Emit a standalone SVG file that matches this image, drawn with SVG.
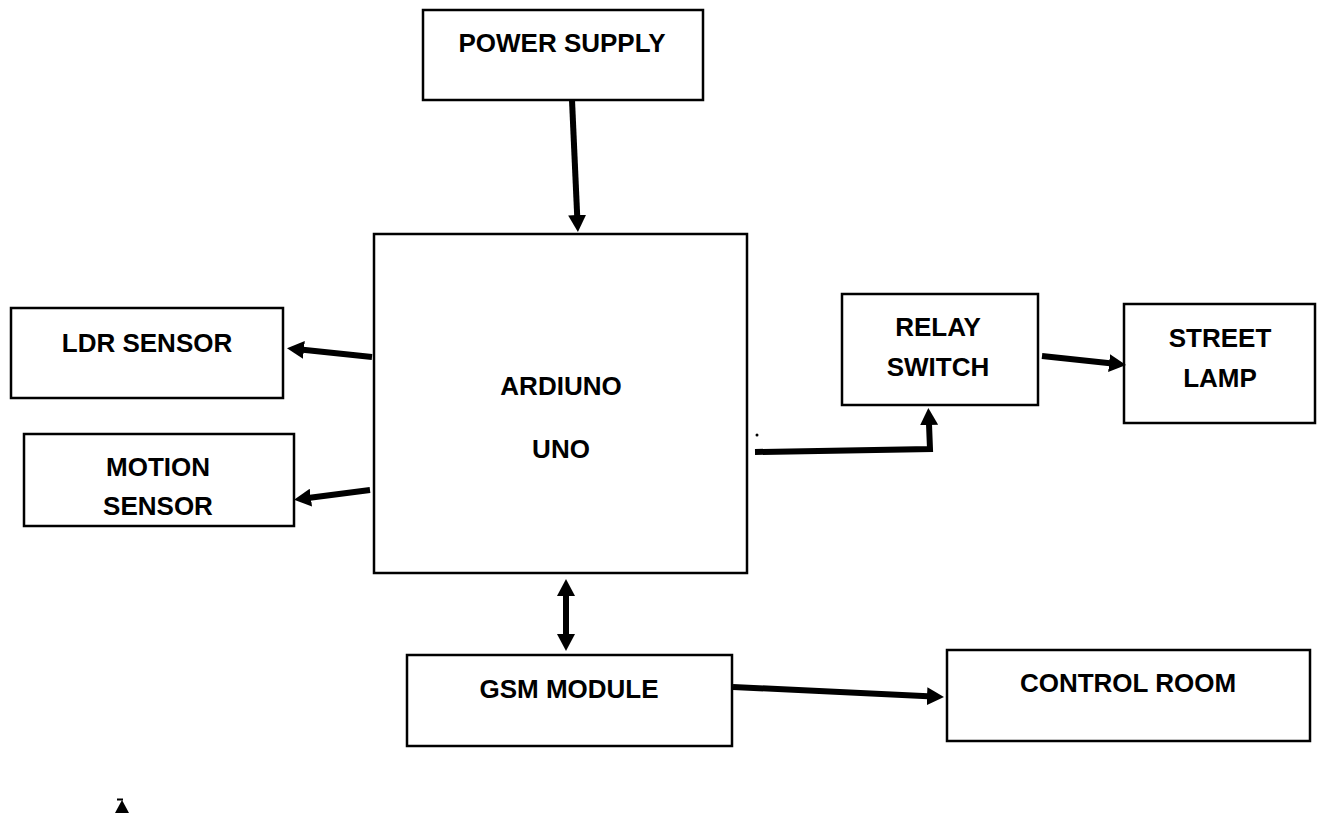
<svg xmlns="http://www.w3.org/2000/svg" width="1323" height="823" viewBox="0 0 1323 823">
<defs>
<style>
.box{fill:#fff;stroke:#000;stroke-width:2.5}
.lbl{font-family:"Liberation Sans",Arial,sans-serif;font-weight:bold;font-size:26px;fill:#000;text-anchor:middle}
.con{fill:none;stroke:#000;stroke-width:6}
.arr{marker-end:url(#ah)}
</style>
<marker id="ah" viewBox="0 0 17 18" refX="1" refY="9" markerWidth="17" markerHeight="18" markerUnits="userSpaceOnUse" orient="auto-start-reverse">
<path d="M0,0 L17,9 L0,18 z" fill="#000"/>
</marker>
</defs>
<rect width="1323" height="823" fill="#fff"/>
<g id="power-supply">
<rect class="box" x="423" y="10" width="280" height="90"/>
<text class="lbl" x="562" y="52">POWER SUPPLY</text>
</g>
<g id="arduino-uno">
<rect class="box" x="374" y="234" width="373" height="339"/>
<text class="lbl" x="561" y="395">ARDIUNO</text>
<text class="lbl" x="561" y="458">UNO</text>
</g>
<g id="ldr-sensor">
<rect class="box" x="11" y="308" width="272" height="90"/>
<text class="lbl" x="147" y="352">LDR SENSOR</text>
</g>
<g id="motion-sensor">
<rect class="box" x="24" y="434" width="270" height="92"/>
<text class="lbl" x="158" y="476">MOTION</text>
<text class="lbl" x="158" y="515">SENSOR</text>
</g>
<g id="relay-switch">
<rect class="box" x="842" y="294" width="196" height="111"/>
<text class="lbl" x="938" y="336">RELAY</text>
<text class="lbl" x="938" y="376">SWITCH</text>
</g>
<g id="street-lamp">
<rect class="box" x="1124" y="304" width="191" height="119"/>
<text class="lbl" x="1220" y="347">STREET</text>
<text class="lbl" x="1220" y="387">LAMP</text>
</g>
<g id="gsm-module">
<rect class="box" x="407" y="655" width="325" height="91"/>
<text class="lbl" x="569" y="698">GSM MODULE</text>
</g>
<g id="control-room">
<rect class="box" x="947" y="650" width="363" height="91"/>
<text class="lbl" x="1128" y="692">CONTROL ROOM</text>
</g>
<g id="connectors">
<path class="con arr" d="M572,100 L577.2,216"/>
<path class="con arr" d="M372,357 L302.9,349.8"/>
<path class="con arr" d="M370,490 L309.9,497.8"/>
<path class="con arr" d="M755,452 L930,449 L929,424"/>
<path class="con arr" d="M1042,356 L1110.1,363.2"/>
<path class="con" d="M566,595 L566,635" marker-start="url(#ah)" marker-end="url(#ah)"/>
<path class="con arr" d="M733,687 L928,696.2"/>
</g>
<circle cx="757" cy="435" r="1.5" fill="#000"/>
<polygon points="122,800 129,813 115,813" fill="#000"/>
<line x1="117" y1="799.5" x2="123" y2="799.5" stroke="#000" stroke-width="2"/>
</svg>
